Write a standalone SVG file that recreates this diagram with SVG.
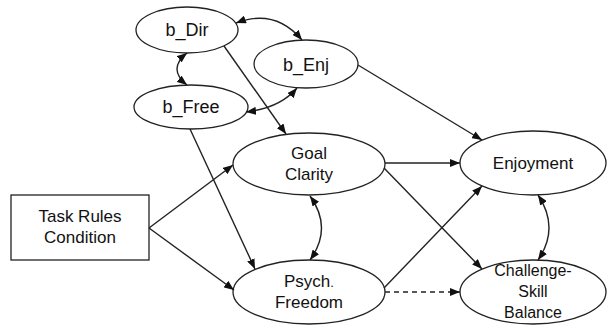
<svg xmlns="http://www.w3.org/2000/svg" width="608" height="327" viewBox="0 0 608 327">
<style>
.n{fill:#fff;stroke:#222;stroke-width:1.3}
.t{font-family:"Liberation Sans",Arial,sans-serif;font-size:17px;fill:#111;text-anchor:middle}
.b{font-size:18px}
.s{font-size:16px}
.c{fill:none;stroke:#222;stroke-width:1.4}
.d{stroke-dasharray:5,4}
</style>
<defs>
<marker id="ah" viewBox="0 0 10 8" refX="10" refY="4" markerWidth="10" markerHeight="8" markerUnits="userSpaceOnUse" orient="auto-start-reverse">
<path d="M0,0L10,4L0,8z" fill="#111"/>
</marker>
</defs>
<rect width="608" height="327" fill="#fff"/>
<g id="b_Dir"><ellipse class="n" cx="187" cy="30" rx="51" ry="23"/><text class="t b" x="187" y="36">b_Dir</text></g>
<g id="b_Enj"><ellipse class="n" cx="306" cy="64" rx="52" ry="24"/><text class="t b" x="306" y="71">b_Enj</text></g>
<g id="b_Free"><ellipse class="n" cx="191" cy="107" rx="57" ry="22"/><text class="t b" x="191" y="113">b_Free</text></g>
<g id="task"><rect class="n" x="11" y="195" width="138" height="65"/><text class="t" x="80" y="222">Task Rules</text><text class="t" x="80" y="243">Condition</text></g>
<g id="goal"><ellipse class="n" cx="309" cy="164" rx="76" ry="31"/><text class="t" x="309" y="159">Goal</text><text class="t" x="309" y="180">Clarity</text></g>
<g id="psych"><ellipse class="n" cx="309" cy="292" rx="76" ry="32"/><text class="t" x="309" y="287"><tspan>Psych</tspan><tspan font-size="13">.</tspan></text><text class="t" x="309" y="308">Freedom</text></g>
<g id="enjoyment"><ellipse class="n" cx="533" cy="163" rx="73" ry="32"/><text class="t" x="533" y="169" font-size="16.5">Enjoyment</text></g>
<g id="csb"><ellipse class="n" cx="533" cy="292" rx="73" ry="32"/><text class="t s" x="533" y="276">Challenge-</text><text class="t s" x="533" y="297">Skill</text><text class="t s" x="533" y="318">Balance</text></g>
<g id="connectors">
<path class="c" d="M236,23 Q275,8 302,40" marker-start="url(#ah)" marker-end="url(#ah)"/>
<path class="c" d="M187,53 Q167,69 187,85" marker-start="url(#ah)" marker-end="url(#ah)"/>
<path class="c" d="M246,112 Q280,108 297,88" marker-start="url(#ah)" marker-end="url(#ah)"/>
<path class="c" d="M224,46 L286,134" marker-end="url(#ah)"/>
<path class="c" d="M190,129 L255,269" marker-end="url(#ah)"/>
<path class="c" d="M149,228 L233,165" marker-end="url(#ah)"/>
<path class="c" d="M149,228 L234,290" marker-end="url(#ah)"/>
<path class="c" d="M310,196 Q333,228 310,260" marker-start="url(#ah)" marker-end="url(#ah)"/>
<path class="c" d="M358,65 L482,140" marker-end="url(#ah)"/>
<path class="c" d="M385,163 L460,163" marker-end="url(#ah)"/>
<path class="c" d="M384,168 L482,269" marker-end="url(#ah)"/>
<path class="c" d="M384,288 L482,186" marker-end="url(#ah)"/>
<path class="c d" d="M385,292 L460,292" marker-end="url(#ah)"/>
<path class="c" d="M538,195 Q560,228 538,260" marker-start="url(#ah)" marker-end="url(#ah)"/>
</g>
</svg>
